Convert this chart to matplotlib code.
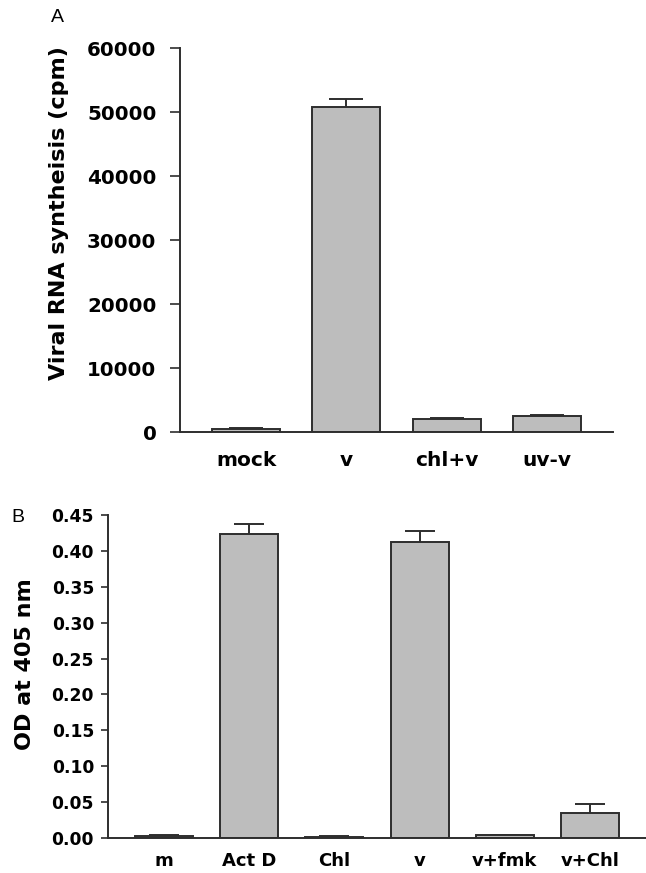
import numpy as np
import matplotlib
matplotlib.use("Agg")
import matplotlib.pyplot as plt

# panel A: viral RNA synthesis
cats_a = ["mock", "v", "chl+v", "uv-v"]
vals_a = [400, 50800, 2000, 2550]
err_a = [150, 1200, 150, 150]
yticks_a = [0, 10000, 20000, 30000, 40000, 50000, 60000]

# panel B: OD at 405 nm
cats_b = ["m", "Act D", "Chl", "v", "v+fmk", "v+Chl"]
vals_b = [0.003, 0.424, 0.002, 0.413, 0.004, 0.035]
err_b = [0.0015, 0.014, 0.0005, 0.015, 0.0005, 0.012]
yticks_b = [0.00, 0.05, 0.10, 0.15, 0.20, 0.25, 0.30, 0.35, 0.40, 0.45]

W, H = 646, 873
fig = plt.figure(figsize=(W / 100, H / 100), dpi=100)

bar_fc = "#bdbdbd"
edge = "#2e2e2e"
font = "DejaVu Sans"


def px_axes(x0, y0, x1, y1):
    # pixel box (top-left origin) -> figure fraction axes
    return fig.add_axes([x0 / W, 1 - y1 / H, (x1 - x0) / W, (y1 - y0) / H])


def style(ax, tick_len, tick_pad, ysize, xsize, xpad):
    for s in ["top", "right"]:
        ax.spines[s].set_visible(False)
    for s in ["left", "bottom"]:
        ax.spines[s].set_linewidth(1.4)
        ax.spines[s].set_color(edge)
    ax.tick_params(axis="y", length=tick_len, width=1.2, color=edge, pad=tick_pad)
    ax.tick_params(axis="x", length=0, pad=xpad)
    for lab in ax.get_yticklabels():
        lab.set_fontfamily(font)
        lab.set_fontweight("bold")
        lab.set_fontsize(ysize)
    for lab in ax.get_xticklabels():
        lab.set_fontfamily(font)
        lab.set_fontweight("bold")
        lab.set_fontsize(xsize)


# ---- A ----
axa = px_axes(180, 48, 613, 432)
xa = np.arange(len(cats_a))
axa.errorbar(xa, vals_a, yerr=err_a, fmt="none", ecolor=edge, elinewidth=1.4,
             capsize=12, capthick=1.4, zorder=1)
axa.bar(xa, vals_a, width=0.68, color=bar_fc, edgecolor=edge, linewidth=1.4, zorder=2)
axa.set_xlim(-0.66, 3.66)
axa.set_ylim(0, 60000)
axa.set_yticks(yticks_a)
axa.set_yticklabels([str(t) for t in yticks_a])
axa.set_xticks(xa)
axa.set_xticklabels(cats_a)
style(axa, 7, 10, 14.3, 14.5, 14)
fig.text(59 / W, 1 - 213 / H, "Viral RNA syntheisis (cpm)", rotation=90,
         ha="center", va="center", fontsize=16, fontweight="bold", family=font)
fig.text(57 / W, 1 - 17 / H, "A", ha="center", va="center", fontsize=14, family="Liberation Sans")

# ---- B ----
axb = px_axes(108, 515, 646, 838)
xb = np.arange(len(cats_b))
axb.errorbar(xb, vals_b, yerr=err_b, fmt="none", ecolor=edge, elinewidth=1.4,
             capsize=10.5, capthick=1.4, zorder=1)
axb.bar(xb, vals_b, width=0.68, color=bar_fc, edgecolor=edge, linewidth=1.4, zorder=2)
axb.set_xlim(-0.66, 5.66)
axb.set_ylim(0, 0.45)
axb.set_yticks(yticks_b)
axb.set_yticklabels(["%.2f" % t for t in yticks_b])
axb.set_xticks(xb)
axb.set_xticklabels(cats_b)
style(axb, 5, 5, 12.3, 13, 10)
fig.text(25 / W, 1 - 664 / H, "OD at 405 nm", rotation=90,
         ha="center", va="center", fontsize=16, fontweight="bold", family=font)
fig.text(18 / W, 1 - 517 / H, "B", ha="center", va="center", fontsize=14, family="Liberation Sans")

fig.savefig("out.png", dpi=100)
